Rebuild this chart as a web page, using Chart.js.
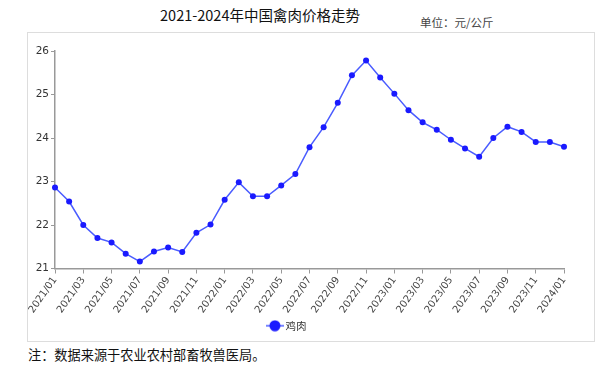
<!DOCTYPE html>
<html>
<head>
<meta charset="utf-8">
<script src="https://cdn.jsdelivr.net/npm/chart.js@4"></script>
<style>
  body { margin: 0; width: 612px; height: 371px; background: #fff; position: relative; overflow: hidden;
         font-family: "Noto Sans CJK SC", "Noto Sans", sans-serif; color: #111; }
  #title { position: absolute; left: 0; top: 4px; width: 520px; text-align: center; font-size: 14.5px; }
  #unit { position: absolute; left: 420px; top: 14px; font-size: 11.5px; color: #444; }
  #box { position: absolute; left: 27px; top: 32px; width: 566px; height: 308px; border: 1px solid #ddd; }
  #note { position: absolute; left: 28px; top: 345px; font-size: 13.2px; color: #111; }
</style>
</head>
<body>
<div id="title">2021-2024年中国禽肉价格走势</div>
<div id="unit">单位：元/公斤</div>
<div id="box"><canvas id="chart" width="566" height="308"></canvas></div>
<div id="note">注：数据来源于农业农村部畜牧兽医局。</div>
<script>
// Monthly chicken price, 2021/01 - 2024/01 (yuan per kg)
const months = [
  '2021/01', '2021/02', '2021/03', '2021/04', '2021/05', '2021/06',
  '2021/07', '2021/08', '2021/09', '2021/10', '2021/11', '2021/12',
  '2022/01', '2022/02', '2022/03', '2022/04', '2022/05', '2022/06',
  '2022/07', '2022/08', '2022/09', '2022/10', '2022/11', '2022/12',
  '2023/01', '2023/02', '2023/03', '2023/04', '2023/05', '2023/06',
  '2023/07', '2023/08', '2023/09', '2023/10', '2023/11', '2023/12',
  '2024/01'
];
const chickenPrice = [
  22.86, 22.54, 22.00, 21.70, 21.60, 21.34,
  21.16, 21.39, 21.48, 21.38, 21.82, 22.01,
  22.58, 22.98, 22.66, 22.66, 22.91, 23.17,
  23.79, 24.25, 24.81, 25.44, 25.78, 25.39,
  25.02, 24.64, 24.36, 24.19, 23.96, 23.76,
  23.57, 24.00, 24.26, 24.14, 23.91, 23.91,
  23.80
];
const seriesName = '鸡肉';

const lineBlue = '#4a5cff';
const dotBlue = '#1a1aff';
const axisGrey = '#999';

// legend marker: short line with a dot in the middle
function legendMarker() {
  const c = document.createElement('canvas');
  c.width = 18; c.height = 12;
  const g = c.getContext('2d');
  g.strokeStyle = lineBlue;
  g.lineWidth = 1.5;
  g.beginPath(); g.moveTo(0, 6); g.lineTo(18, 6); g.stroke();
  g.fillStyle = dotBlue;
  g.beginPath(); g.arc(9, 6, 5.5, 0, Math.PI * 2); g.fill();
  return c;
}

// nudge the legend a little left, like the original
const legendShift = {
  id: 'legendShift',
  beforeDraw(chart) {
    if (chart.legend && !chart.legend._shifted) {
      chart.legend.left -= 8;
      chart.legend.right -= 8;
      chart.legend._shifted = true;
    }
  }
};

new Chart(document.getElementById('chart'), {
  type: 'line',
  data: {
    labels: months,
    datasets: [{
      label: seriesName,
      data: chickenPrice,
      borderColor: lineBlue,
      backgroundColor: dotBlue,
      borderWidth: 1.5,
      pointRadius: 3,
      pointBackgroundColor: dotBlue,
      pointBorderColor: dotBlue,
      pointBorderWidth: 0,
      tension: 0
    }]
  },
  plugins: [legendShift],
  options: {
    responsive: false,
    animation: false,
    layout: { padding: { top: 18, right: 30, left: 0, bottom: 0 } },
    plugins: {
      tooltip: { enabled: false },
      legend: {
        position: 'bottom',
        labels: {
          usePointStyle: true,
          pointStyle: legendMarker(),
          color: '#333',
          font: { size: 10.5, family: '"Noto Sans CJK SC", sans-serif' },
          padding: 6
        }
      }
    },
    scales: {
      x: {
        offset: false,
        border: { display: true, color: axisGrey, width: 1.5 },
        grid: { drawOnChartArea: false, drawTicks: true, tickLength: 5, color: axisGrey },
        ticks: {
          autoSkip: false,
          maxRotation: 55,
          minRotation: 55,
          color: '#444',
          padding: 1,
          font: { size: 10, family: '"DejaVu Sans", sans-serif' },
          callback: function (v, i) { return i % 2 === 0 ? months[i] : null; }
        },
        afterFit: function (scale) { scale.height = 46; }
      },
      y: {
        min: 21,
        max: 26,
        border: { display: true, color: axisGrey, width: 1.5 },
        grid: { drawOnChartArea: false, drawTicks: true, tickLength: 4, color: axisGrey },
        ticks: {
          stepSize: 1,
          color: '#333',
          padding: 2,
          font: { size: 10.5, family: '"DejaVu Sans", sans-serif' }
        },
        afterFit: function (scale) { scale.width = 27; }
      }
    }
  }
});
</script>
</body>
</html>
